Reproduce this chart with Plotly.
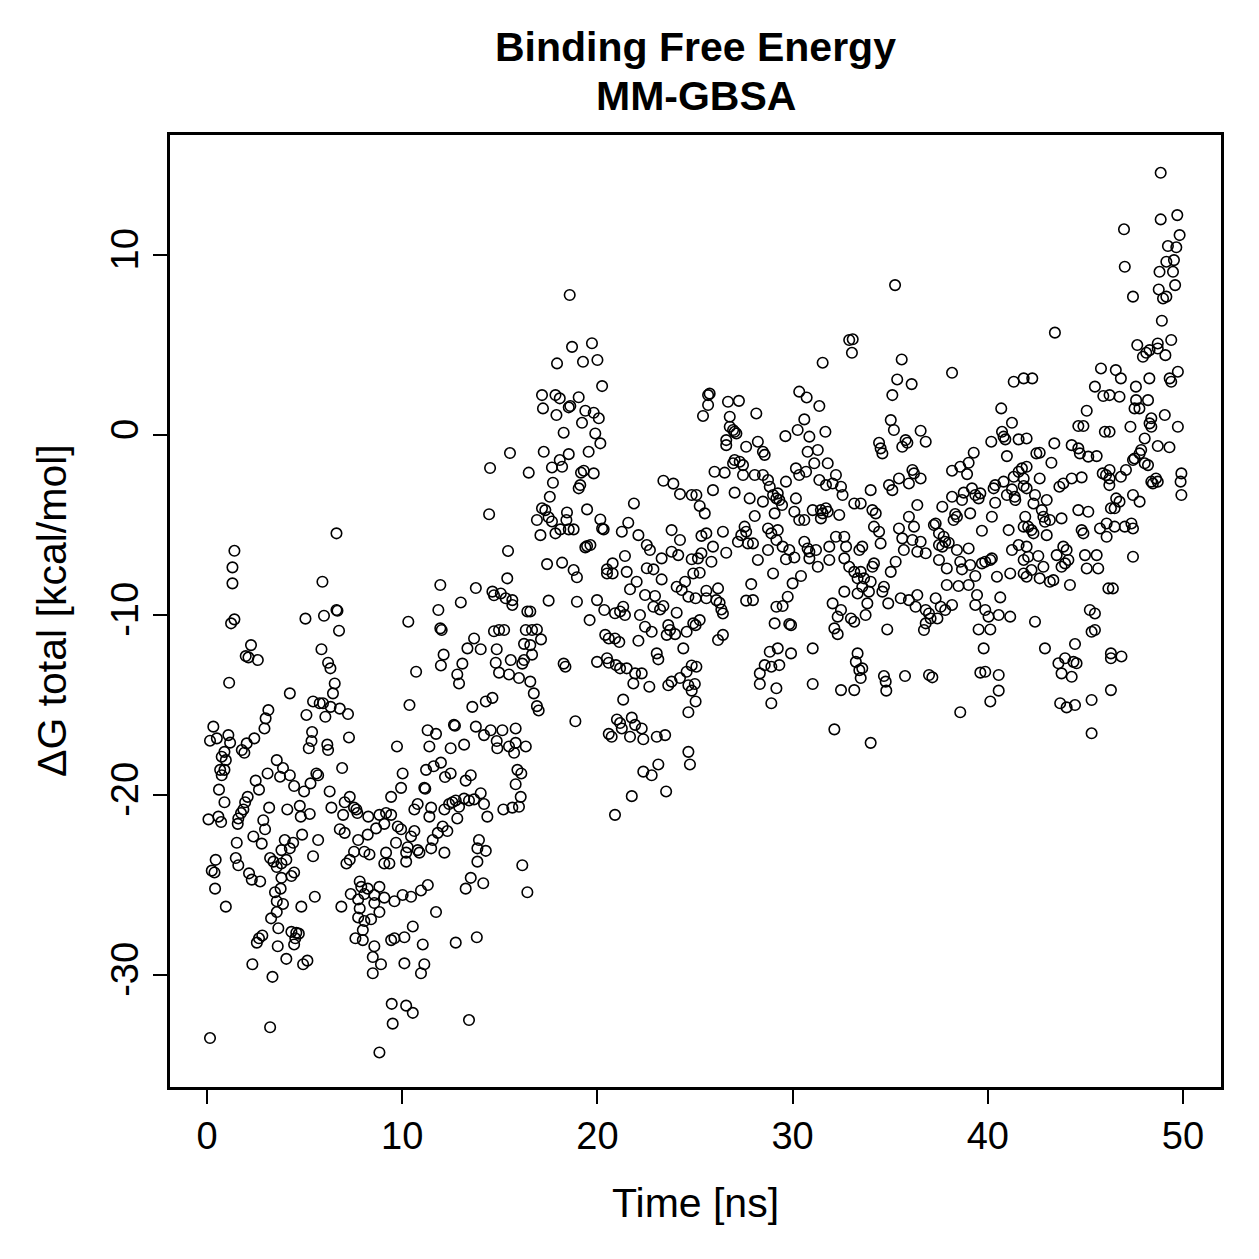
import plotly.graph_objects as go

# ---- data (time in ns, dG total in kcal/mol) ----
time_00_04 = [1.40,1.30,1.30,1.40,1.23,2.25,1.98,2.12,2.60,1.13,3.14,3.00,2.94,0.32,0.15,0.50,1.09,1.18,2.42,2.03,1.91,1.78,0.89,0.75,0.96,3.57,3.74,0.67,0.89,0.75,3.10,2.49,2.66,0.61,0.89,2.08,1.95,1.86,1.74,1.60,1.57,3.18,0.07,0.58,0.72,2.88,2.97,1.52,2.37,2.80,0.44,0.24,0.38,0.41,1.47,1.60,2.15,2.29,2.72,3.23,3.40,3.57,0.96,3.48,3.57,3.57,3.28,3.65,2.83,2.66,2.55,3.62,2.32,3.35,3.23,0.15]
dg_00_04 = [-6.43,-7.35,-8.24,-10.24,-10.46,-11.67,-12.28,-12.35,-12.50,-13.76,-15.28,-15.74,-16.30,-16.20,-16.98,-16.85,-16.67,-17.09,-16.85,-17.13,-17.65,-17.50,-17.60,-17.87,-18.06,-18.06,-18.98,-18.60,-18.60,-18.90,-18.80,-19.20,-19.70,-19.70,-20.40,-20.10,-20.40,-20.80,-21.00,-21.30,-21.60,-20.70,-21.35,-21.20,-21.50,-21.40,-21.90,-22.65,-22.30,-22.70,-23.60,-24.20,-24.30,-25.20,-23.50,-23.90,-24.35,-24.70,-24.80,-23.50,-23.70,-24.00,-26.20,-25.40,-25.90,-26.50,-26.85,-27.40,-27.80,-27.96,-28.20,-28.40,-29.40,-30.10,-32.90,-33.50]

time_04_08 = [6.63,5.91,5.04,5.99,6.63,6.68,6.76,5.86,6.20,6.32,6.54,6.45,4.24,5.43,5.77,5.94,6.33,6.80,7.22,6.06,5.09,5.38,5.21,5.35,6.16,6.20,7.27,3.89,4.24,5.60,5.69,5.30,4.97,4.46,6.92,6.28,7.31,7.05,7.53,7.65,7.70,4.11,4.75,4.80,5.26,6.37,6.97,6.80,7.05,4.87,5.69,7.74,3.98,3.81,4.24,4.41,4.06,3.81,5.43,7.53,7.31,7.14,4.46,4.32,3.81,3.77,7.82,7.90,5.52,7.36,3.89,4.83,6.88,7.74,7.82,7.74,4.32,4.57,4.70,4.52,4.46,7.60,4.06,4.92,5.14]
dg_04_08 = [-5.46,-8.15,-10.20,-10.04,-9.72,-9.76,-10.87,-11.90,-12.65,-12.96,-13.80,-14.35,-14.35,-14.80,-14.90,-14.90,-15.10,-15.20,-15.50,-15.65,-15.55,-16.50,-17.40,-17.00,-17.20,-17.50,-16.80,-18.50,-18.90,-18.80,-18.90,-19.35,-19.80,-19.50,-18.50,-19.80,-20.10,-20.40,-20.70,-20.80,-21.00,-20.80,-20.60,-21.20,-21.05,-20.70,-21.10,-21.90,-22.10,-22.20,-22.50,-22.50,-22.50,-23.06,-22.96,-22.65,-23.60,-23.80,-23.40,-23.15,-23.60,-23.80,-24.30,-24.50,-24.60,-25.20,-24.80,-25.10,-25.65,-25.50,-26.05,-26.20,-26.20,-25.80,-26.30,-26.80,-27.60,-27.65,-27.70,-27.96,-28.30,-27.96,-29.10,-29.40,-29.20]

time_08_12 = [11.95,11.85,10.31,11.95,12.02,12.12,11.98,10.71,10.37,11.30,11.73,11.39,9.73,11.98,11.61,11.22,12.19,10.02,9.94,9.43,11.13,11.18,10.79,10.62,11.48,11.39,12.16,8.26,8.83,9.17,9.43,9.08,8.66,8.23,9.77,9.94,10.62,10.45,10.28,10.20,9.68,11.56,11.48,11.82,12.07,10.88,10.79,8.06,8.32,9.17,9.08,9.34,10.20,12.16,8.83,8.23,8.06,8.57,9.08,8.57,8.83,8.40,8.06,7.98,7.98,9.60,10.02,10.45,10.96,11.31,11.73,10.54,10.11,9.60,9.43,11.05,8.57,8.49,8.91,8.49,10.11,11.13,10.96,10.20,9.46,10.54,9.51,8.83]
dg_08_12 = [-8.33,-9.72,-10.37,-10.74,-10.83,-12.20,-12.80,-13.15,-15.00,-16.40,-16.60,-17.30,-17.30,-18.20,-18.40,-18.60,-19.00,-18.80,-19.60,-20.10,-19.60,-19.65,-20.50,-20.80,-20.70,-21.20,-20.80,-21.20,-21.10,-21.00,-21.10,-21.60,-21.85,-22.20,-21.75,-21.90,-22.00,-22.30,-22.90,-23.20,-22.65,-22.50,-22.96,-22.10,-21.75,-23.20,-23.06,-23.15,-23.30,-23.20,-23.80,-23.80,-23.70,-23.20,-25.10,-25.20,-25.50,-25.55,-25.70,-26.00,-26.50,-26.90,-27.00,-27.50,-28.06,-25.90,-25.55,-25.65,-25.30,-25.00,-26.50,-27.30,-27.90,-27.96,-28.06,-28.30,-28.40,-29.00,-29.40,-29.90,-29.35,-29.40,-29.90,-31.70,-31.60,-32.10,-32.70,-34.30]

time_12_16 = [15.38,13.77,14.62,14.70,15.05,15.30,15.64,15.64,13.00,16.41,14.70,14.96,15.22,16.33,13.68,13.34,14.02,14.84,16.24,13.08,14.79,15.56,16.24,16.15,14.96,15.47,15.98,12.82,12.91,14.62,14.28,13.59,12.65,12.70,13.77,14.19,14.53,15.13,15.81,14.84,14.87,15.47,15.81,16.33,15.73,12.48,13.17,12.48,13.51,13.25,15.90,16.10,15.81,16.07,15.98,15.64,15.18,12.40,12.57,12.74,12.91,13.17,13.42,13.68,14.02,14.19,14.36,12.82,12.31,13.93,13.85,14.28,13.85,16.15,13.51,13.25,14.15,16.41,13.82,12.74,13.42,14.50,14.45,15.52,15.42]
dg_12_16 = [-7.96,-8.50,-8.70,-8.90,-8.80,-9.07,-9.17,-9.44,-9.30,-9.80,-10.90,-10.83,-10.83,-10.83,-11.30,-11.85,-11.90,-11.90,-11.60,-12.70,-12.65,-12.50,-12.50,-12.70,-13.20,-13.30,-13.50,-13.30,-13.80,-14.60,-14.80,-15.10,-16.10,-16.15,-16.20,-16.67,-16.40,-16.40,-16.30,-17.00,-17.40,-17.30,-17.10,-17.30,-17.65,-17.40,-17.20,-18.80,-18.90,-19.20,-18.60,-18.80,-19.40,-20.10,-20.65,-20.70,-20.80,-20.50,-20.40,-20.30,-20.65,-20.20,-20.30,-20.24,-19.90,-20.50,-21.20,-21.30,-22.00,-22.50,-22.96,-23.10,-23.70,-23.90,-24.60,-25.20,-24.90,-25.40,-27.90,-28.20,-32.50,-1.83,-4.40,-1.00,-6.44]

time_16_21 = [18.58,18.70,19.72,17.93,19.26,20.00,20.24,17.16,17.85,18.07,19.04,17.21,17.90,18.61,18.53,19.38,19.81,20.07,19.21,18.27,19.89,20.15,17.25,18.07,18.53,19.55,17.67,18.19,19.16,19.30,19.81,16.48,19.04,19.12,17.72,17.56,17.16,17.33,16.90,17.50,17.67,18.44,18.41,18.53,18.78,18.10,17.85,17.08,19.47,20.15,20.32,20.24,19.47,19.64,19.38,17.42,18.19,18.78,18.95,20.49,20.49,17.50,18.95,19.98,20.35,19.60,16.56,16.65,16.90,17.11,16.56,16.65,20.40,20.58,20.49,20.58,19.98,18.27,18.36,16.56,16.74,16.90,16.99,18.87,20.58]
dg_16_21 = [7.78,4.90,5.10,3.98,4.07,4.17,2.72,2.22,2.22,2.04,2.10,1.48,1.11,1.61,1.54,1.35,1.24,0.93,0.68,0.13,0.09,-0.46,-0.93,-1.39,-1.06,-0.93,-1.80,-1.76,-2.09,-1.98,-2.13,-2.09,-2.96,-2.78,-2.65,-3.43,-4.07,-4.17,-4.72,-4.57,-4.80,-4.30,-4.72,-5.24,-5.24,-5.24,-5.46,-5.56,-4.13,-4.69,-5.24,-5.19,-6.17,-6.11,-6.24,-7.17,-7.09,-7.50,-7.90,-7.46,-7.69,-9.20,-9.26,-9.17,-9.72,-10.28,-9.80,-10.83,-10.80,-11.35,-11.67,-12.20,-11.10,-11.30,-12.40,-12.65,-12.60,-12.70,-12.87,-13.70,-14.35,-15.06,-15.30,-15.90,-16.60]

time_21_25 = [23.38,23.89,24.23,24.83,21.87,21.58,21.25,22.10,22.53,22.69,23.29,23.80,24.23,23.80,24.14,21.41,20.78,20.78,21.50,22.53,22.87,23.29,24.83,24.91,22.01,21.67,22.44,22.95,22.87,23.21,23.38,24.06,24.49,24.32,24.66,21.32,21.16,20.90,21.41,22.18,22.44,22.78,23.63,23.72,23.55,23.98,24.06,24.57,24.91,20.90,21.12,22.10,24.40,23.04,23.12,20.95,21.16,21.50,21.93,22.27,21.84,22.66,23.63,23.80,24.23,24.57,24.66,24.83,24.83,21.32,24.66,21.00,21.16,20.73,21.76,21.67,21.93,22.27,22.35,23.04,23.47,21.25,24.66,24.74,23.12,22.78,22.35,23.52,21.76,20.90]
dg_21_25 = [-2.54,-2.70,-3.28,-3.33,-3.80,-4.87,-5.37,-5.56,-6.11,-6.39,-6.85,-5.28,-5.83,-6.48,-6.67,-6.72,-7.13,-7.69,-7.60,-7.40,-7.46,-8.02,-6.90,-7.69,-8.15,-8.57,-8.89,-8.94,-9.54,-9.69,-9.50,-8.43,-8.15,-8.61,-8.98,-9.54,-9.80,-9.90,-10.00,-10.00,-10.65,-10.93,-10.56,-10.83,-11.10,-11.06,-9.87,-10.93,-10.46,-11.30,-11.50,-11.43,-11.85,-12.13,-12.46,-12.78,-12.96,-12.96,-13.24,-13.24,-13.80,-13.98,-13.90,-13.70,-13.50,-13.15,-13.90,-14.20,-12.80,-14.70,-15.40,-15.80,-16.00,-16.76,-15.70,-16.76,-16.10,-16.30,-16.90,-16.76,-16.67,-16.30,-17.60,-18.30,-18.30,-18.90,-18.70,-19.80,-20.06,-21.10]

time_25_29 = [25.75,25.67,26.69,27.25,25.67,25.41,26.78,28.14,26.78,26.95,27.03,27.12,26.60,26.60,27.62,28.22,28.57,28.48,27.03,27.29,27.46,26.95,26.00,26.52,27.46,28.06,28.48,28.74,28.83,29.00,29.17,25.92,27.03,27.80,28.48,28.06,25.07,25.24,25.50,29.08,26.43,25.58,25.33,27.54,27.62,27.37,27.20,27.71,27.97,28.74,28.91,28.74,29.17,25.92,25.33,26.60,25.84,25.15,25.24,28.22,29.00,27.88,27.62,27.97,25.58,25.58,26.18,26.09,26.26,26.35,26.43,25.03,29.17,29.08,25.24,25.03,26.43,26.18,28.83,28.57,28.32,28.32,28.91,29.17,28.91,25.07,24.99,25.03]
dg_25_29 = [2.30,2.22,1.85,1.90,1.67,1.06,1.02,1.20,0.46,0.28,0.18,0.09,-0.28,-0.56,-0.65,-0.37,-1.10,-0.93,-1.39,-1.48,-1.67,-1.57,-2.04,-2.09,-2.22,-2.22,-2.22,-2.50,-2.87,-3.33,-3.52,-3.06,-3.20,-3.52,-3.70,-4.50,-3.33,-3.94,-4.35,-4.35,-5.37,-5.46,-5.60,-5.09,-5.37,-5.56,-5.93,-6.02,-6.02,-5.19,-5.46,-6.39,-5.83,-6.20,-6.57,-6.54,-7.04,-6.85,-7.65,-6.94,-7.69,-8.28,-9.20,-9.17,-8.65,-9.07,-8.52,-9.17,-9.32,-9.69,-9.91,-9.07,-9.54,-10.46,-10.28,-10.56,-11.10,-11.39,-12.04,-12.78,-13.24,-13.83,-12.87,-14.07,-14.90,-12.87,-13.83,-14.80]

time_29_33 = [32.90,33.08,33.04,31.54,30.34,30.72,31.37,30.60,30.26,29.63,30.86,31.68,30.77,31.29,31.11,30.17,30.34,30.69,31.80,31.37,32.22,31.71,32.05,32.48,32.56,33.16,29.66,29.24,29.32,29.46,30.17,30.09,30.34,30.60,31.03,31.45,31.54,31.45,31.71,31.80,32.39,29.24,29.49,29.83,29.66,30.09,30.60,30.77,30.86,30.86,31.20,31.29,31.88,31.88,32.22,32.65,32.74,32.65,32.90,33.16,33.42,33.33,33.33,30.43,30.00,29.75,29.49,29.83,29.92,32.65,32.05,32.48,32.31,32.99,33.16,32.14,32.31,29.24,29.32,29.92,31.03,33.33,33.24,33.42,31.03,32.48,33.16,32.14]
dg_29_33 = [5.28,5.32,4.57,4.02,2.41,2.09,1.61,0.87,0.28,-0.06,-0.09,0.18,-0.93,-0.83,-1.57,-1.85,-2.22,-2.04,-1.57,-2.50,-2.22,-2.78,-2.69,-2.87,-3.33,-3.80,-2.59,-3.24,-3.61,-3.89,-3.52,-4.26,-4.72,-4.72,-4.17,-4.17,-4.35,-4.63,-4.07,-4.26,-4.44,-5.28,-6.20,-6.39,-6.90,-6.80,-5.93,-6.30,-6.48,-6.85,-6.39,-7.32,-6.94,-6.20,-5.65,-5.65,-6.20,-6.85,-7.32,-7.60,-6.39,-7.96,-8.80,-7.83,-8.24,-8.98,-9.50,-10.50,-10.56,-8.70,-9.35,-9.72,-10.09,-10.19,-10.37,-10.74,-11.06,-11.85,-12.78,-12.13,-11.85,-12.13,-12.60,-13.06,-13.83,-14.17,-14.17,-16.35]

time_33_38 = [35.25,35.59,35.36,36.10,35.11,35.03,35.19,36.56,36.82,35.79,35.62,35.88,34.43,34.51,34.60,36.14,36.22,36.56,35.96,35.45,34.94,35.11,34.00,33.49,34.09,34.26,36.39,35.96,36.22,35.45,35.62,34.17,34.43,34.51,33.57,36.14,36.56,36.39,36.82,35.70,37.67,37.33,37.50,37.24,37.50,37.67,37.50,34.17,34.09,35.28,35.03,33.49,33.66,34.00,33.57,33.91,33.83,33.74,34.68,34.60,34.90,35.54,35.96,36.39,36.30,36.82,36.99,37.07,36.82,36.73,37.42,37.59,37.33,34.85,33.57,33.49,34.68,34.77,35.76,36.99,37.16,34.00,34.80]
dg_33_38 = [8.33,4.20,3.09,2.83,2.22,0.83,0.28,0.24,-0.37,-0.28,-0.65,-0.43,-0.43,-0.74,-1.02,-1.94,-2.13,-2.41,-2.69,-2.41,-2.78,-3.06,-3.06,-3.80,-4.17,-4.35,-3.89,-4.54,-5.09,-5.19,-5.74,-5.09,-5.37,-6.02,-6.20,-5.83,-5.93,-6.48,-6.57,-6.39,-3.98,-4.91,-5.46,-5.00,-6.11,-6.20,-6.94,-7.13,-7.32,-7.04,-7.60,-7.60,-7.96,-8.15,-8.43,-8.70,-9.35,-10.00,-8.43,-8.70,-9.35,-9.07,-9.17,-8.89,-9.54,-9.72,-9.91,-10.19,-10.46,-10.83,-10.19,-9.54,-9.07,-10.80,-12.96,-13.50,-13.39,-13.70,-13.39,-13.33,-13.46,-17.10,-14.20]

time_38_42 = [38.17,41.33,41.84,40.69,41.24,40.73,40.81,40.90,41.58,40.18,40.98,39.28,39.02,38.59,38.17,38.94,41.75,41.58,41.33,41.84,40.81,40.38,40.30,41.24,41.84,38.17,38.77,38.68,39.19,39.36,39.53,39.62,40.38,40.98,41.38,41.41,39.10,38.33,38.42,38.25,40.21,39.70,41.07,41.92,41.84,37.74,37.82,38.00,38.42,39.02,38.59,38.68,37.90,39.87,40.13,40.21,39.70,39.10,39.36,40.47,41.15,41.58,41.24,41.84,41.84,37.90,38.50,39.02,39.45,39.36,40.64,38.17,37.82,39.87,40.04,40.56,41.15,39.53,40.13,39.79,39.62,39.87,40.56,40.56,40.13,38.59]
dg_38_42 = [3.46,2.96,3.15,1.48,0.68,0.18,-0.09,-0.24,-0.24,-0.37,-1.17,-0.98,-1.54,-1.76,-1.98,-2.17,-1.85,-2.04,-2.32,-2.41,-2.59,-2.78,-2.96,-3.02,-2.83,-3.43,-3.20,-3.61,-2.96,-3.33,-3.52,-3.24,-3.76,-3.33,-3.43,-3.61,-4.35,-4.39,-4.54,-4.72,-4.54,-5.32,-5.28,-4.54,-5.09,-5.65,-5.93,-5.98,-6.39,-6.30,-7.04,-7.46,-7.41,-7.04,-6.94,-6.85,-7.13,-7.22,-7.83,-7.87,-7.69,-6.11,-6.39,-6.94,-7.69,-8.33,-8.39,-8.33,-8.89,-9.44,-9.02,-9.44,-9.72,-9.72,-10.09,-10.00,-10.09,-10.80,-10.80,-11.85,-13.20,-13.15,-13.33,-14.20,-14.80,-15.40]

time_42_46 = [43.44,45.80,45.49,45.92,42.28,45.07,44.64,44.90,46.00,41.99,43.41,44.30,44.64,44.72,45.15,45.58,42.66,42.49,43.26,41.99,42.66,43.87,44.30,44.81,43.67,45.89,46.06,46.23,46.31,41.99,42.42,42.34,43.02,42.77,42.85,42.93,43.18,43.78,42.07,42.24,42.34,43.02,44.64,45.15,44.81,44.90,45.75,46.09,46.09,41.99,42.07,42.59,42.85,42.24,41.99,42.66,43.18,43.36,43.53,43.87,44.04,43.78,43.96,44.13,44.21,44.98,45.58,45.07,45.66,46.18,45.23,45.49,45.32,45.49,42.42,42.93,44.47,43.96,43.62,44.39,44.55,43.78,44.30,46.31,46.31,46.31,45.32,43.71,44.04,44.47,45.32,46.85]
dg_42_46 = [5.69,3.70,2.69,2.17,3.15,1.35,0.50,0.50,0.18,-0.19,-0.46,-0.56,-0.74,-1.02,-1.20,-1.17,-0.98,-1.02,-1.54,-1.76,-2.41,-2.69,-2.41,-2.35,-2.87,-2.13,-2.22,-2.78,-4.07,-2.96,-3.33,-3.80,-3.61,-4.17,-4.54,-4.82,-4.72,-4.63,-5.09,-5.28,-5.46,-5.56,-4.17,-4.26,-5.28,-5.46,-5.19,-4.91,-5.65,-6.20,-6.76,-6.72,-7.32,-7.50,-7.87,-7.96,-8.15,-8.06,-6.67,-6.20,-6.39,-7.32,-7.13,-6.94,-8.33,-6.67,-6.67,-7.41,-7.41,-8.52,-9.72,-9.91,-10.93,-10.83,-10.37,-11.85,-11.61,-12.40,-12.68,-12.60,-12.68,-13.24,-13.43,-12.13,-12.40,-14.17,-14.72,-14.90,-15.13,-15.00,-16.57,-12.30]

time_46_50 = [48.86,48.86,49.71,49.83,49.23,49.66,49.54,49.15,49.49,48.80,49.60,48.76,49.15,48.98,48.92,46.98,47.02,47.44,47.66,47.95,48.12,48.29,48.71,48.71,49.40,49.10,46.56,46.82,47.59,48.28,49.32,49.40,49.74,46.24,46.75,47.60,47.77,47.52,48.21,48.38,48.29,48.38,49.07,49.74,47.31,46.24,48.04,48.71,49.31,47.86,47.78,48.04,48.21,47.44,47.52,47.08,46.82,46.24,46.24,46.58,46.50,46.75,47.44,47.78,48.62,48.71,48.38,48.46,49.92,49.88,49.92,46.50,47.02,47.36,47.44,47.44,46.41]
dg_46_50 = [14.57,11.98,12.22,11.11,10.50,10.43,9.72,9.63,9.07,9.07,8.33,8.09,7.69,7.59,6.35,11.43,9.35,7.69,5.00,4.35,4.57,4.72,5.09,4.81,5.28,4.44,3.61,3.15,2.69,3.15,3.15,2.96,3.52,2.22,2.13,1.94,1.48,1.48,1.94,0.93,0.65,0.46,1.11,0.46,0.46,0.18,-0.19,-0.61,-0.68,-0.83,-1.02,-1.57,-1.67,-1.39,-1.30,-1.94,-2.32,-1.94,-2.41,-3.52,-4.07,-3.70,-3.33,-3.70,-2.41,-2.59,-2.59,-2.69,-2.13,-2.59,-3.33,-5.09,-5.09,-4.91,-5.19,-6.76,-8.52]

x_tick_values = [0, 10, 20, 30, 40, 50]
x_tick_labels = ["0", "10", "20", "30", "40", "50"]
y_tick_values = [-30, -20, -10, 0, 10]
y_tick_labels = ["-30", "-20", "-10", "0", "10"]

title_line1 = "Binding Free Energy"
title_line2 = "MM-GBSA"
x_label = "Time [ns]"
y_label = "\u0394G total [kcal/mol]"

# ---- assemble ----
segments = [
    (time_00_04, dg_00_04), (time_04_08, dg_04_08), (time_08_12, dg_08_12),
    (time_12_16, dg_12_16), (time_16_21, dg_16_21), (time_21_25, dg_21_25),
    (time_25_29, dg_25_29), (time_29_33, dg_29_33), (time_33_38, dg_33_38),
    (time_38_42, dg_38_42), (time_42_46, dg_42_46), (time_46_50, dg_46_50),
]
time_ns, dg_total = [], []
for t, g in segments:
    assert len(t) == len(g), (len(t), len(g))
    time_ns += t
    dg_total += g

FONT = "Liberation Sans, Arial, Helvetica, sans-serif"

fig = go.Figure()
fig.add_trace(go.Scatter(
    x=time_ns, y=dg_total, mode="markers",
    marker=dict(symbol="circle-open", size=10.5, color="black",
                line=dict(width=1.6, color="black")),
    hoverinfo="x+y", showlegend=False,
))

axis_common = dict(
    showgrid=False, zeroline=False,
    showline=True, mirror=True, linecolor="black", linewidth=2.5,
    ticks="outside", ticklen=14, tickwidth=2, tickcolor="black",
    tickfont=dict(family=FONT, size=38, color="black"),
)

fig.update_layout(
    width=1259, height=1259,
    margin=dict(l=170, r=38, t=135, b=172),
    paper_bgcolor="white", plot_bgcolor="white",
    xaxis=dict(range=[-1.9, 51.95], tickmode="array",
               tickvals=x_tick_values, ticktext=x_tick_labels, **axis_common),
    yaxis=dict(range=[-36.22, 16.67], tickmode="array",
               tickvals=y_tick_values, ticktext=y_tick_labels, tickangle=-90,
               **axis_common),
    annotations=[
        dict(text="<b>" + title_line1 + "</b>", xref="paper", yref="paper",
             x=0.5, y=(1087 - 47) / 952, xanchor="center", yanchor="middle",
             showarrow=False, font=dict(family=FONT, size=41, color="black")),
        dict(text="<b>" + title_line2 + "</b>", xref="paper", yref="paper",
             x=0.5, y=(1087 - 96) / 952, xanchor="center", yanchor="middle",
             showarrow=False, font=dict(family=FONT, size=41, color="black")),
        dict(text=x_label, xref="paper", yref="paper",
             x=0.5, y=(1087 - 1203) / 952, xanchor="center", yanchor="middle",
             showarrow=False, font=dict(family=FONT, size=41, color="black")),
        dict(text=y_label, xref="paper", yref="paper", textangle=-90,
             x=(52 - 170) / 1051, y=0.5, xanchor="center", yanchor="middle",
             showarrow=False, font=dict(family=FONT, size=41, color="black")),
    ],
)

fig.write_html("out.html")
